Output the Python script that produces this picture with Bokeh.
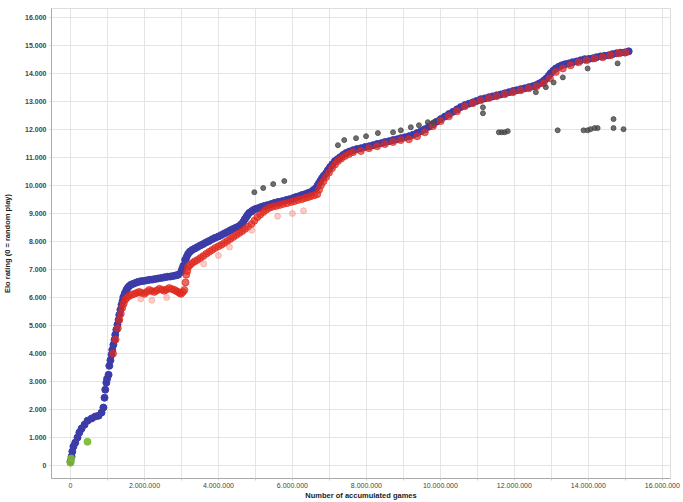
from bokeh.plotting import figure
from bokeh.models import FixedTicker, Range1d
from bokeh.embed import file_html
from bokeh.resources import INLINE

# Blue series (upper edge of band)
blue_games = [0, 30000, 50000, 80000, 130000, 190000, 240000, 300000, 380000, 460000,
              570000, 670000, 760000, 840000, 890000, 920000, 940000, 970000, 990000, 1030000, 1050000,
              1080000, 1110000, 1130000, 1160000, 1190000, 1210000, 1240000, 1270000, 1300000, 1320000,
              1350000, 1380000, 1410000, 1430000, 1470000, 1510000, 1550000, 1590000, 1640000, 1700000,
              1770000, 1840000, 1900000, 1970000, 2050000, 2130000, 2210000, 2290000, 2370000, 2460000,
              2540000, 2620000, 2700000, 2780000, 2850000, 2910000, 2990000, 3020000, 3050000,
              3100000, 3140000, 3180000, 3230000, 3290000, 3360000, 3430000, 3510000, 3590000, 3670000,
              3750000, 3830000, 3910000, 4000000, 4080000, 4160000, 4240000, 4320000, 4400000,
              4480000, 4560000, 4620000, 4670000, 4710000, 4750000, 4790000, 4830000, 4890000, 4940000,
              5000000, 5070000, 5150000, 5240000, 5330000, 5430000, 5520000, 5610000, 5720000, 5830000,
              5920000, 6020000, 6100000, 6180000, 6260000, 6340000, 6420000, 6500000, 6570000, 6640000,
              6680000, 6720000, 6760000, 6800000, 6850000, 6910000, 6960000, 7020000, 7080000, 7150000,
              7220000, 7290000, 7370000, 7450000, 7540000, 7640000, 7740000, 7850000, 7960000, 8070000,
              8180000, 8290000, 8400000, 8500000, 8610000, 8720000, 8830000, 8930000, 9040000, 9150000,
              9260000, 9370000, 9480000, 9580000, 9690000, 9800000, 9900000, 10010000, 10120000, 10230000,
              10340000, 10450000, 10550000, 10660000, 10770000, 10880000, 10980000, 11090000, 11200000, 11310000,
              11410000, 11520000, 11630000, 11740000, 11850000, 11960000, 12060000, 12170000, 12280000, 12390000,
              12490000, 12580000, 12660000, 12740000, 12810000, 12870000, 12930000, 12980000, 13050000, 13120000,
              13200000, 13280000, 13370000, 13470000, 13570000, 13680000, 13790000, 13900000, 14010000, 14120000,
              14220000, 14330000, 14440000, 14550000, 14650000, 14760000, 14870000, 14980000, 15090000]
blue_elo = [140, 320, 500, 680, 820, 1000, 1180, 1320, 1460, 1600,
            1680, 1750, 1780, 1890, 2070, 2420, 2710, 2960, 3100, 3240, 3560,
            3760, 3960, 4130, 4310, 4490, 4670, 4850, 5030, 5200, 5380,
            5560, 5740, 5880, 6020, 6150, 6270, 6350, 6410, 6460, 6490,
            6530, 6560, 6580, 6590, 6610, 6630, 6640, 6660, 6680, 6700,
            6720, 6740, 6750, 6770, 6790, 6810, 6910, 7020, 7130,
            7340, 7450, 7560, 7640, 7700, 7750, 7800, 7860, 7910, 7970,
            8020, 8080, 8130, 8180, 8230, 8290, 8340, 8400, 8450,
            8500, 8550, 8620, 8700, 8790, 8870, 8950, 9020, 9070, 9120,
            9160, 9190, 9230, 9270, 9300, 9340, 9380, 9410, 9440, 9480,
            9510, 9550, 9590, 9620, 9660, 9690, 9730, 9770, 9840, 9910,
            10000, 10090, 10170, 10260, 10350, 10440, 10550, 10660, 10760, 10870,
            10940, 11010, 11090, 11160, 11210, 11260, 11300, 11330, 11370, 11400,
            11440, 11480, 11510, 11550, 11580, 11620, 11650, 11690, 11720, 11760,
            11810, 11870, 11940, 12010, 12100, 12190, 12280, 12370, 12460, 12550,
            12630, 12720, 12800, 12870, 12920, 12970, 13020, 13080, 13110, 13150,
            13180, 13220, 13250, 13290, 13330, 13370, 13400, 13440, 13470, 13510,
            13540, 13580, 13630, 13690, 13760, 13830, 13920, 14010, 14100, 14180,
            14240, 14290, 14330, 14360, 14400, 14430, 14470, 14510, 14520, 14540,
            14580, 14610, 14630, 14650, 14690, 14720, 14740, 14750, 14790]

# Red series (lower edge of band)
red_games = [1150000, 1220000, 1280000, 1320000, 1360000, 1400000, 1440000, 1480000, 1530000, 1590000,
             1660000, 1730000, 1800000, 1860000, 1930000, 2000000, 2060000, 2130000, 2200000, 2270000,
             2330000, 2400000, 2470000, 2540000, 2600000, 2670000, 2740000, 2810000, 2860000, 2910000,
             2950000, 2990000, 3040000, 3080000, 3110000, 3130000, 3160000, 3180000, 3230000, 3290000,
             3360000, 3430000, 3510000, 3590000, 3670000, 3750000, 3830000, 3910000, 4000000, 4080000,
             4160000, 4240000, 4320000, 4400000, 4480000, 4560000, 4640000, 4720000, 4800000, 4890000,
             4970000, 5050000, 5130000, 5210000, 5290000, 5370000, 5460000, 5560000, 5650000, 5750000,
             5850000, 5960000, 6050000, 6150000, 6250000, 6340000, 6420000, 6500000, 6590000, 6670000,
             6720000, 6770000, 6840000, 6910000, 6990000, 7070000, 7150000, 7230000, 7320000, 7420000,
             7530000, 7640000, 7850000, 8070000, 8290000, 8500000, 8720000,
             8930000, 9150000, 9370000, 9580000, 9800000, 10010000, 10230000, 10450000, 10660000, 10880000,
             11090000, 11310000, 11520000, 11740000, 11960000, 12170000, 12390000, 12600000, 12790000, 12960000,
             13120000, 13310000, 13520000, 13740000, 13950000, 14170000, 14390000, 14600000, 14820000, 15010000]
red_elo = [4000, 4500, 4900, 5200, 5420, 5630, 5780, 5920, 6000, 6060,
           6100, 6130, 6170, 6200, 6160, 6130, 6200, 6270, 6230, 6200,
           6250, 6310, 6280, 6240, 6290, 6340, 6300, 6270, 6230, 6200,
           6160, 6130, 6200, 6270, 6540, 6810, 6950, 7090, 7160, 7230,
           7290, 7340, 7410, 7480, 7560, 7630, 7700, 7770, 7830, 7880,
           7950, 8020, 8090, 8160, 8230, 8300, 8370, 8450, 8530, 8620,
           8740, 8870, 8960, 9050, 9130, 9200, 9240, 9270, 9300, 9340,
           9370, 9410, 9440, 9480, 9510, 9550, 9580, 9620, 9650, 9690,
           9850, 10010, 10150, 10300, 10460, 10620, 10750, 10870, 10960, 11050,
           11120, 11190, 11230, 11330, 11400, 11480, 11550,
           11620, 11650, 11760, 11900, 12120, 12300, 12470, 12650, 12830, 12940,
           13040, 13120, 13190, 13260, 13330, 13400, 13470, 13540, 13650, 13830,
           14050, 14180, 14290, 14400, 14470, 14540, 14580, 14650, 14720, 14750]

# Faint red stragglers below the band
faint_games = [1900000, 2200000, 2600000, 3600000, 4000000, 4300000, 4900000, 5600000, 6000000, 6300000]
faint_elo = [5950, 5900, 6000, 7200, 7500, 7800, 8400, 8900, 9000, 9100]

# Grey outliers
grey_games = [4970000, 5210000, 5480000, 5780000, 7230000, 7400000, 7720000, 7990000, 8310000, 8720000,
              8930000, 9200000, 9420000, 9660000, 9820000, 11150000, 11150000, 12580000, 12850000, 13060000,
              13310000, 13980000, 14790000, 11580000, 11660000, 11740000, 11820000, 13170000, 13870000, 13980000,
              14060000, 14170000, 14250000, 14680000, 14680000, 14950000]
grey_elo = [9760, 9910, 10050, 10160, 11440, 11620, 11690, 11760, 11870, 11900,
            11970, 12080, 12150, 12260, 12260, 12790, 12580, 13330, 13510, 13680,
            13860, 14180, 14360, 11900, 11900, 11900, 11940, 11970, 11970, 11970,
            12010, 12050, 12050, 12370, 12050, 12010]

# Green starting points
green_games = [0, 20000, 460000]
green_elo = [100, 250, 850]

x_ticks = list(range(0, 16000001, 1000000))
x_labels = {t: ("{:,}".format(t).replace(",", ".") if (t // 1000000) % 2 == 0 else "") for t in x_ticks}
y_ticks = list(range(0, 16001, 1000))
y_labels = {t: "{:,}".format(t).replace(",", ".") for t in y_ticks}

p = figure(width=683, height=502, output_backend="svg", toolbar_location=None,
           x_range=Range1d(-513000, 16220000), y_range=Range1d(-463, 16320),
           min_border_left=50, min_border_right=13, min_border_top=8, min_border_bottom=23)

p.scatter(blue_games, blue_elo, size=7, color="#3c3ca8", alpha=1.0, marker="circle")
p.scatter(red_games, red_elo, size=7, color="#e02a1e", alpha=0.7, marker="circle")
p.scatter(faint_games, faint_elo, size=6, color="#f07060", alpha=0.35, marker="circle")
p.scatter(grey_games, grey_elo, size=5, color="#4a4a4a", alpha=0.8, marker="circle")
p.scatter(green_games, green_elo, size=7, color="#7ab830", alpha=0.9, marker="circle")

p.xaxis.ticker = FixedTicker(ticks=x_ticks)
p.xaxis.major_label_overrides = x_labels
p.yaxis.ticker = FixedTicker(ticks=y_ticks)
p.yaxis.major_label_overrides = y_labels
p.xaxis.minor_tick_line_color = None
p.yaxis.minor_tick_line_color = None

p.xaxis.axis_label = "Number of accumulated games"
p.yaxis.axis_label = "Elo rating (0 = random play)"
for ax in (p.xaxis, p.yaxis):
    ax.axis_label_text_font = "Liberation Sans"
    ax.axis_label_text_font_style = "bold"
    ax.axis_label_text_font_size = "7.5px"
    ax.axis_label_text_color = "#222222"
    ax.major_label_text_font = "Liberation Sans"
    ax.major_label_text_font_size = "7px"
    ax.major_label_text_color = "#444444"
    ax.axis_line_color = "#aaaaaa"
    ax.major_tick_line_color = "#cccccc"
    ax.major_tick_out = 2
    ax.major_tick_in = 0
p.xaxis.major_label_standoff = 2
p.xaxis.axis_label_standoff = 0
p.yaxis.major_label_standoff = 3
p.yaxis.axis_label_standoff = 10
p.yaxis.major_label_text_font_style = "bold"

p.xgrid.grid_line_color = "#e4e4e4"
p.ygrid.grid_line_color = "#e4e4e4"
p.outline_line_color = "#dddddd"
p.background_fill_color = "white"
p.border_fill_color = "white"

open("out.html", "w").write(file_html(p, INLINE))
